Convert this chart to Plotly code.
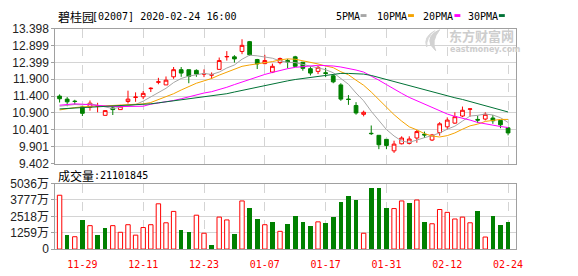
import plotly.graph_objects as go

# ---------------- data ----------------
dates = ["11-26", "11-27", "11-28", "11-29", "12-02", "12-03", "12-04", "12-05", "12-06", "12-09",
         "12-10", "12-11", "12-12", "12-13", "12-16", "12-17", "12-18", "12-19", "12-20", "12-23",
         "12-24", "12-27", "12-30", "12-31", "01-02", "01-03", "01-06", "01-07", "01-08", "01-09",
         "01-10", "01-13", "01-14", "01-15", "01-16", "01-17", "01-20", "01-21", "01-22", "01-23",
         "01-24", "01-29", "01-30", "01-31", "02-03", "02-04", "02-05", "02-06", "02-07", "02-10",
         "02-11", "02-12", "02-13", "02-14", "02-17", "02-18", "02-19", "02-20", "02-21", "02-24"]
label_dates = ["11-29", "12-11", "12-23", "01-07", "01-17", "01-31", "02-12", "02-24"]

open_ = [11.40, 11.31, 11.25, 11.08, 11.07, 11.10, 10.83, 11.05, 11.00, 11.24,
         11.36, 11.38, 11.62, 11.81, 11.73, 11.97, 12.18, 12.18, 12.16, 12.05,
         12.02, 12.19, 12.56, 12.56, 12.72, 13.01, 12.48, 12.36, 12.11, 12.39,
         12.45, 12.56, 12.40, 12.21, 12.13, 12.09, 12.00, 11.73, 11.31, 11.12,
         10.86, 10.30, 10.24, 10.12, 9.78, 9.99, 10.00, 10.16, 10.27, 10.10,
         10.32, 10.49, 10.60, 10.81, 11.01, 10.71, 10.72, 10.75, 10.68, 10.46]
high = [11.45, 11.37, 11.29, 11.10, 11.27, 11.20, 10.98, 11.11, 11.14, 11.56,
        11.51, 11.55, 11.66, 11.94, 11.98, 12.26, 12.26, 12.18, 12.19, 12.19,
        12.10, 12.54, 12.73, 12.61, 13.08, 13.03, 12.50, 12.62, 12.36, 12.54,
        12.50, 12.59, 12.41, 12.28, 12.29, 12.23, 12.03, 11.78, 11.43, 11.22,
        10.97, 10.53, 10.24, 10.12, 10.08, 10.21, 10.21, 10.40, 10.35, 10.28,
        10.63, 10.77, 10.92, 11.09, 11.03, 10.82, 10.92, 10.84, 10.68, 10.46]
low = [11.21, 11.10, 11.14, 10.81, 10.97, 10.92, 10.82, 10.84, 11.00, 11.18,
       11.23, 11.31, 11.52, 11.75, 11.73, 11.91, 11.97, 11.78, 11.97, 11.96,
       11.91, 12.19, 12.45, 12.39, 12.64, 12.59, 12.20, 12.34, 12.08, 12.34,
       12.22, 12.26, 12.15, 12.01, 12.05, 11.96, 11.78, 11.26, 11.14, 10.85,
       10.80, 10.25, 9.83, 9.83, 9.72, 9.97, 9.97, 10.02, 10.16, 10.07,
       10.23, 10.41, 10.58, 10.78, 10.79, 10.60, 10.68, 10.58, 10.45, 10.24]
close = [11.32, 11.23, 11.24, 10.89, 11.19, 11.11, 10.97, 11.00, 11.10, 11.31,
         11.37, 11.48, 11.63, 11.82, 11.87, 12.18, 12.08, 11.98, 12.05, 12.06,
         12.03, 12.45, 12.57, 12.50, 12.90, 12.62, 12.35, 12.45, 12.28, 12.51,
         12.41, 12.28, 12.22, 12.08, 12.25, 12.07, 11.82, 11.31, 11.30, 10.90,
         10.92, 10.29, 9.96, 9.94, 9.98, 10.16, 10.13, 10.35, 10.25, 10.25,
         10.58, 10.69, 10.79, 10.98, 11.02, 10.69, 10.86, 10.67, 10.55, 10.31]

ma5 = [11.10, 11.12, 11.15, 11.14, 11.17, 11.13, 11.08, 11.03, 11.07, 11.10,
       11.15, 11.25, 11.38, 11.52, 11.63, 11.80, 11.92, 11.99, 12.03, 12.07,
       12.04, 12.11, 12.23, 12.32, 12.49, 12.61, 12.59, 12.56, 12.52, 12.44,
       12.40, 12.39, 12.34, 12.30, 12.25, 12.18, 12.09, 11.91, 11.75, 11.49,
       11.26, 10.95, 10.68, 10.41, 10.22, 10.07, 10.03, 10.11, 10.17, 10.23,
       10.31, 10.42, 10.51, 10.66, 10.81, 10.83, 10.87, 10.84, 10.76, 10.62]
ma10 = [10.99, 11.03, 11.06, 11.08, 11.10, 11.11, 11.11, 11.12, 11.13, 11.14,
        11.14, 11.17, 11.21, 11.30, 11.37, 11.47, 11.58, 11.68, 11.78, 11.85,
        11.92, 12.02, 12.11, 12.18, 12.28, 12.32, 12.35, 12.40, 12.42, 12.47,
        12.50, 12.49, 12.45, 12.41, 12.35, 12.29, 12.24, 12.12, 12.03, 11.87,
        11.72, 11.52, 11.29, 11.08, 10.85, 10.66, 10.49, 10.40, 10.29, 10.22,
        10.19, 10.23, 10.31, 10.42, 10.52, 10.57, 10.65, 10.68, 10.71, 10.71]
ma20 = [11.13, 11.15, 11.17, 11.16, 11.14, 11.12, 11.10, 11.09, 11.09, 11.09,
        11.10, 11.10, 11.16, 11.19, 11.22, 11.27, 11.32, 11.38, 11.44, 11.49,
        11.53, 11.59, 11.66, 11.74, 11.82, 11.90, 11.97, 12.04, 12.10, 12.16,
        12.21, 12.25, 12.28, 12.29, 12.31, 12.31, 12.29, 12.26, 12.22, 12.17,
        12.11, 12.00, 11.87, 11.74, 11.60, 11.48, 11.36, 11.26, 11.16, 11.05,
        10.95, 10.87, 10.80, 10.75, 10.69, 10.62, 10.57, 10.54, 10.50, 10.47]
ma30 = [11.02, 11.04, 11.05, 11.06, 11.07, 11.08, 11.09, 11.10, 11.11, 11.12,
        11.13, 11.14, 11.17, 11.20, 11.23, 11.26, 11.29, 11.32, 11.34, 11.36,
        11.39, 11.43, 11.47, 11.52, 11.57, 11.62, 11.67, 11.72, 11.77, 11.82,
        11.85, 11.89, 11.92, 11.96, 12.00, 12.03, 12.06, 12.07, 12.07, 12.06,
        12.05, 12.01, 11.95, 11.89, 11.83, 11.76, 11.69, 11.64, 11.58, 11.52,
        11.47, 11.41, 11.35, 11.30, 11.24, 11.17, 11.13, 11.07, 11.01, 10.93]

# volume in 万 shares, and whether the day closed up (1) or down (0)
volume = [4138, 1046, 949, 2263, 1800, 1095, 1606, 1800, 1290, 1873,
          1070, 1655, 1873, 3480, 2020, 2896, 1460, 1314, 2604, 1217,
          292, 2458, 2240, 1168, 3700, 3139, 2336, 1873, 2117, 1363,
          1898, 2555, 2044, 1752, 2093, 1971, 2482, 3650, 4087, 3795,
          1217, 4671, 4671, 3139, 3114, 3700, 3577, 3773, 2117, 1946,
          3041, 2823, 2312, 2458, 2020, 2920, 925, 2555, 1825, 2110.18]
vol_up = [1, 0, 1, 0, 1, 0, 0, 1, 1, 1,
          1, 1, 1, 1, 1, 1, 0, 0, 1, 1,
          0, 1, 1, 0, 1, 0, 0, 1, 0, 1,
          0, 0, 0, 0, 1, 0, 0, 0, 0, 0,
          1, 0, 0, 0, 1, 1, 0, 1, 0, 1,
          1, 1, 1, 1, 1, 0, 1, 0, 0, 0]

price_ticks = [9.402, 9.901, 10.401, 10.900, 11.400, 11.900, 12.399, 12.899, 13.398]
price_tick_text = ["9.402", "9.901", "10.401", "10.900", "11.400", "11.900", "12.399", "12.899", "13.398"]
vol_ticks = [0, 1259, 2518, 3777, 5036]
vol_tick_text = ["0", "1259万", "2518万", "3777万", "5036万"]

stock_name = "碧桂园"
stock_info = "[02007] 2020-02-24 16:00"
vol_title = "成交量"
vol_value = ":21101845"
ma_names = ["5PMA", "10PMA", "20PMA", "30PMA"]
watermark_cn = "东方财富网"
watermark_en = "eastmoney.com"

# ---------------- styling ----------------
W, H = 578, 276
RED = "#ff0000"
GREEN = "#008000"
MA_COLORS = ["#a6a6a6", "#f5a300", "#ff00ff", "#007236"]
FRAME = "#a0a0a0"
GRID = "#d4d4d4"
MONO = "DejaVu Sans Mono, Liberation Mono, monospace"
SANS = "Liberation Sans, Arial, Noto Sans CJK SC, sans-serif"
CJK = "Noto Sans CJK SC, sans-serif"


def px(x):
    return x / W


def py(y):
    return 1 - y / H


x = list(range(len(dates)))
label_idx = [dates.index(d) for d in label_dates]

fig = go.Figure()

fig.add_trace(go.Candlestick(
    x=x, open=open_, high=high, low=low, close=close,
    increasing=dict(line=dict(color=RED, width=1), fillcolor="#ffffff"),
    decreasing=dict(line=dict(color=GREEN, width=1), fillcolor=GREEN),
    whiskerwidth=0, xaxis="x", yaxis="y", hoverinfo="skip", showlegend=False,
))

for vals, col in zip([ma5, ma10, ma20, ma30], MA_COLORS):
    fig.add_trace(go.Scatter(x=x, y=vals, mode="lines", line=dict(color=col, width=1),
                             xaxis="x", yaxis="y", hoverinfo="skip", showlegend=False))

up_x = [i for i in x if vol_up[i]]
dn_x = [i for i in x if not vol_up[i]]
fig.add_trace(go.Bar(x=up_x, y=[volume[i] for i in up_x], width=0.58,
                     marker=dict(color="#ffffff", line=dict(color=RED, width=1)),
                     xaxis="x2", yaxis="y2", hoverinfo="skip", showlegend=False))
fig.add_trace(go.Bar(x=dn_x, y=[volume[i] for i in dn_x], width=0.6,
                     marker=dict(color=GREEN, line=dict(color=GREEN, width=0)),
                     xaxis="x2", yaxis="y2", hoverinfo="skip", showlegend=False))

xdom = [px(56), px(522)]
common_x = dict(domain=xdom, range=[-0.56, 60.0], tickvals=label_idx,
                showgrid=True, gridcolor=GRID, griddash="dash", gridwidth=1,
                showline=True, mirror=True, linecolor=FRAME, linewidth=1,
                zeroline=False, fixedrange=True)

fig.update_layout(
    width=W, height=H,
    margin=dict(l=0, r=0, t=0, b=0),
    paper_bgcolor="#ffffff", plot_bgcolor="#ffffff",
    hovermode=False, showlegend=False, bargap=0,
    xaxis=dict(**common_x, anchor="y", showticklabels=False, ticks="",
               rangeslider=dict(visible=False)),
    xaxis2=dict(**common_x, anchor="y2", matches="x", ticktext=label_dates,
                ticks="", ticklabelstandoff=6,
                tickfont=dict(family=MONO, size=10, color=RED)),
    yaxis=dict(domain=[py(165), py(22.67)], range=[9.402, 13.398],
               tickvals=price_ticks, ticktext=price_tick_text,
               tickfont=dict(family=SANS, size=12, color="#222222"),
               ticks="outside", ticklen=3, tickcolor=FRAME,
               showgrid=True, gridcolor=GRID, gridwidth=1,
               showline=True, mirror=True, linecolor=FRAME, linewidth=1,
               zeroline=False, fixedrange=True, anchor="x"),
    yaxis2=dict(domain=[py(255), py(186)], range=[0, 5036],
                tickvals=vol_ticks, ticktext=vol_tick_text,
                tickfont=dict(family=SANS, size=12, color="#222222"),
                ticks="outside", ticklen=3, tickcolor=FRAME,
                showgrid=True, gridcolor=GRID, gridwidth=1,
                showline=True, mirror=True, linecolor=FRAME, linewidth=1,
                zeroline=False, fixedrange=True, anchor="x2"),
)

ann = []
# title
ann.append(dict(x=px(57), y=py(9.5), text=stock_name, font=dict(family=CJK, size=12, color="#000000")))
ann.append(dict(x=px(91), y=py(9.5), text=stock_info, font=dict(family=MONO, size=10, color="#000000")))
# volume title
ann.append(dict(x=px(57), y=py(178), text=vol_title, font=dict(family=CJK, size=12, color="#000000")))
ann.append(dict(x=px(93), y=py(178), text=vol_value, font=dict(family=MONO, size=10, color="#000000")))
# MA legend
legend_text_x = [338, 380, 426, 472]
legend_box_x = [365, 413, 460, 505]
shapes = []
for name, tx, bx, col in zip(ma_names, legend_text_x, legend_box_x, MA_COLORS):
    ann.append(dict(x=px(tx), y=py(9.5), text=name, font=dict(family=MONO, size=10, color="#000000")))
    shapes.append(dict(type="rect", xref="paper", yref="paper",
                       x0=px(bx), x1=px(bx + 6), y0=py(10.5), y1=py(7.5),
                       fillcolor=col, line=dict(width=0)))
# watermark text
ann.append(dict(x=px(452), y=py(30), text="<b>" + watermark_cn + "</b>",
                font=dict(family=CJK, size=13, color="#cdcdcd")))
ann.append(dict(x=px(453), y=py(44.5), text="<b>" + watermark_en + "</b>",
                font=dict(family="DejaVu Sans, sans-serif", size=8, color="#cdcdcd")))

for a in ann:
    a.update(xref="paper", yref="paper", xanchor="left", yanchor="middle", showarrow=False)

# watermark swoosh logo (decorative path in paper coords)
def pt(xp, yp):
    return f"{px(xp):.5f},{py(yp):.5f}"

logo_path = ("M " + pt(445, 24) + " Q " + pt(432, 30) + " " + pt(436, 40) +
             " L " + pt(441, 46) + " Q " + pt(436, 36) + " " + pt(445, 24) + " Z")
shapes.append(dict(type="path", xref="paper", yref="paper", path=logo_path,
                   fillcolor="#d2d2d2", line=dict(color="#d2d2d2", width=1)))
logo_path2 = ("M " + pt(440, 25) + " Q " + pt(428, 32) + " " + pt(432, 42) +
              " Q " + pt(431, 33) + " " + pt(440, 25) + " Z")
shapes.append(dict(type="path", xref="paper", yref="paper", path=logo_path2,
                   fillcolor="#d8d8d8", line=dict(color="#d8d8d8", width=1)))

fig.update_layout(annotations=ann, shapes=shapes)

fig.write_html("out.html", config={"displayModeBar": False, "staticPlot": True})
